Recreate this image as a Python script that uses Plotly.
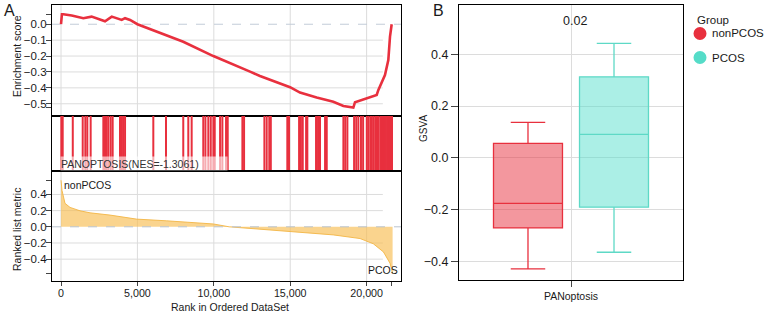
import plotly.graph_objects as go

# ---------------- data ----------------
es_rank = [0, 60, 150, 700, 1460, 2000, 2880, 3320, 3970, 4190, 4520, 5000, 8000, 9970,
           12370, 13020, 14990, 15640, 16730, 17820, 18480, 19130, 19240, 19680, 19900,
           20660, 20770, 20990, 21200, 21420, 21530, 21640]
es_score = [0.0, 0.063, 0.063, 0.055, 0.038, 0.048, 0.019, 0.048, 0.027, 0.038, 0.027, 0.0,
            -0.11, -0.20, -0.298, -0.325, -0.396, -0.43, -0.46, -0.487, -0.514, -0.524,
            -0.49, -0.476, -0.465, -0.445, -0.413, -0.361, -0.319, -0.225, -0.078, 0.0]

hit_ranks = [20, 110, 770, 1420, 1590, 1720, 1940, 2770, 2880, 2990, 3100, 3250, 3380,
             3860, 3950, 4060, 4190, 6040, 6870, 8000, 8330, 8550, 9310, 9450, 9640, 9800,
             9970, 10060, 10410, 10560, 10800, 10910, 11870, 11980, 13310, 13460, 13630,
             13730, 14810, 14920, 15580, 15700, 15820, 16040, 16120, 16690, 16820, 16950,
             17280, 17390, 18480, 18600, 18740, 19180, 19320, 19460, 19630, 19770, 20010,
             20110, 20240, 20340, 20440, 20560, 20640, 20720, 20800, 20940, 21020, 21100,
             21160, 21260, 21340, 21420, 21500, 21580, 21660]

metric_rank = [0, 20, 65, 260, 590, 1240, 1900, 3210, 4950, 6920, 9970, 11000, 13020,
               14990, 17820, 19570, 20440, 21100, 21530, 21700]
metric_val = [0.576, 0.50, 0.45, 0.29, 0.24, 0.198, 0.173, 0.145, 0.095, 0.074, 0.035, 0.0,
              -0.03, -0.062, -0.10, -0.145, -0.21, -0.31, -0.45, -0.575]

gene_set_label = "PANOPTOSIS(NES=-1.3061)"

rank_ticks = [0, 5000, 10000, 15000, 20000]
rank_ticktext = ["0", "5,000", "10,000", "15,000", "20,000"]
es_ticks = [0.0, -0.1, -0.2, -0.3, -0.4, -0.5]
metric_ticks = [0.4, 0.2, 0.0, -0.2, -0.4]

groups = ["nonPCOS", "PCOS"]
box_category = "PANoptosis"
box_q1 = [-0.27, -0.19]
box_median = [-0.175, 0.091]
box_q3 = [0.056, 0.313]
box_low = [-0.428, -0.364]
box_high = [0.137, 0.442]
gsva_ticks = [-0.4, -0.2, 0.0, 0.2, 0.4]
p_value = "0.02"

# ---------------- style ----------------
W, H = 765, 312
FONT = "Liberation Sans, Arial, sans-serif"
RED = "#E8303E"
TEAL = "#55DCC8"
GROUP_LINE = [RED, "#5ED9C6"]
GROUP_FILL = ["rgba(232,48,62,0.5)", "rgba(80,222,202,0.48)"]
GRID = "#DCDCDC"
TXT = "#1a1a1a"


def fx(p):
    return p / W


def fy(p):
    return 1 - p / H


def fmt(v):
    s = f"{abs(v):.1f}"
    return ("\u2212" + s) if v < 0 else s


fig = go.Figure()

# running enrichment score
fig.add_trace(go.Scatter(x=es_rank, y=es_score, mode="lines",
                         line=dict(color=RED, width=2.6), xaxis="x", yaxis="y",
                         showlegend=False, hoverinfo="skip"))

# hit bars
hx, hy = [], []
for r in hit_ranks:
    hx += [r, r, None]
    hy += [0, 1, None]
fig.add_trace(go.Scatter(x=hx, y=hy, mode="lines", line=dict(color=RED, width=2),
                         xaxis="x2", yaxis="y2", showlegend=False, hoverinfo="skip"))

# ranked list metric
fig.add_trace(go.Scatter(x=metric_rank, y=metric_val, mode="lines", fill="tozeroy",
                         fillcolor="rgba(247,188,78,0.64)",
                         line=dict(color="rgba(243,182,70,0.9)", width=1),
                         xaxis="x3", yaxis="y3", showlegend=False, hoverinfo="skip"))

# boxes
for i, g in enumerate(groups):
    fig.add_trace(go.Box(x=[box_category], q1=[box_q1[i]], median=[box_median[i]],
                         q3=[box_q3[i]], lowerfence=[box_low[i]], upperfence=[box_high[i]],
                         name=g, fillcolor=GROUP_FILL[i],
                         line=dict(color=GROUP_LINE[i], width=1.3), whiskerwidth=0.5,
                         boxpoints=False, xaxis="x4", yaxis="y4", showlegend=False))

xA = [fx(52), fx(401)]
xrange = [-590, 22250]
common_ax = dict(showline=True, mirror=True, linecolor="black", linewidth=1.3,
                 zeroline=False, showgrid=False)

layout = dict(
    width=W, height=H, margin=dict(l=0, r=0, t=0, b=0),
    paper_bgcolor="white", plot_bgcolor="white",
    font=dict(family=FONT, color=TXT),
    showlegend=False,
    boxmode="group", boxgap=0.232, boxgroupgap=0.198,
    xaxis=dict(domain=xA, anchor="y", range=xrange, showticklabels=False, ticks="",
               **common_ax),
    xaxis2=dict(domain=xA, anchor="y2", range=xrange, matches="x", showticklabels=False,
                ticks="", **common_ax),
    xaxis3=dict(domain=xA, anchor="y3", range=xrange, matches="x",
                tickvals=rank_ticks + [metric_rank[-1] - 60],
                ticktext=rank_ticktext + [""], ticks="outside", ticklen=4, tickwidth=1.2,
                ticklabelstandoff=-2,
                tickfont=dict(size=10.7, color=TXT), **common_ax),
    yaxis=dict(domain=[fy(116), fy(5)], anchor="x", range=[-0.577, 0.121],
               tickvals=es_ticks + [max(es_score), min(es_score)],
               ticktext=[fmt(v) for v in es_ticks] + ["", ""],
               ticks="outside", ticklen=5, tickwidth=1.2, ticklabelstandoff=-3,
               tickfont=dict(size=11.5, color=TXT), **common_ax),
    yaxis2=dict(domain=[fy(171), fy(116)], anchor="x2", range=[0, 1],
                showticklabels=False, ticks="", **common_ax),
    yaxis3=dict(domain=[fy(281), fy(171)], anchor="x3", range=[-0.67, 0.69],
                tickvals=metric_ticks + [max(metric_val), min(metric_val)],
                ticktext=[fmt(v) for v in metric_ticks] + ["", ""],
                ticks="outside", ticklen=5, tickwidth=1.2, ticklabelstandoff=-3,
                tickfont=dict(size=11.5, color=TXT), **common_ax),
    xaxis4=dict(domain=[fx(459), fx(683)], anchor="y4", type="category",
                showline=True, mirror=True, linecolor="black", linewidth=1.3,
                showgrid=True, gridcolor=GRID, gridwidth=1, ticks="outside", ticklen=6,
                tickwidth=1.2, tickfont=dict(size=10.5, color=TXT)),
    yaxis4=dict(domain=[fy(280), fy(5)], anchor="x4", range=[-0.471, 0.59],
                tickvals=gsva_ticks, ticktext=[fmt(v) for v in gsva_ticks],
                showline=True, mirror=True, linecolor="black", linewidth=1.3,
                showgrid=True, gridcolor=GRID, gridwidth=1, zeroline=False,
                ticks="outside", ticklen=7, tickwidth=1.2,
                tickfont=dict(size=12.5, color=TXT)),
)
fig.update_layout(**layout)

shapes = []
# vertical gridlines in all three GSEA panels
for yr in ["y domain", "y2 domain", "y3 domain"]:
    for t in rank_ticks:
        shapes.append(dict(type="line", xref="x", yref=yr, x0=t, x1=t, y0=0, y1=1,
                           line=dict(color=GRID, width=1), layer="below"))
# horizontal gridlines (stop short of right edge as in reference)
for v in es_ticks:
    if v != 0:
        shapes.append(dict(type="line", xref="x domain", yref="y", x0=0, x1=0.948, y0=v,
                           y1=v, line=dict(color=GRID, width=1), layer="below"))
for v in metric_ticks:
    if v != 0:
        shapes.append(dict(type="line", xref="x3 domain", yref="y3", x0=0, x1=0.948,
                           y0=v, y1=v, line=dict(color=GRID, width=1), layer="below"))
shapes.append(dict(type="line", xref="x domain", yref="y", x0=0, x1=1, y0=0, y1=0,
                   line=dict(color="#C3CCD8", width=1, dash="dash"), layer="below"))
shapes.append(dict(type="line", xref="x3 domain", yref="y3", x0=0, x1=1, y0=0, y1=0,
                   line=dict(color="#B9C3CF", width=1, dash="dash"), layer="above"))
# manual legend markers
leg_y = [33.5, 57.5]
for i, g in enumerate(groups):
    shapes.append(dict(type="circle", xref="paper", yref="paper", xsizemode="pixel",
                       ysizemode="pixel", xanchor=fx(700), yanchor=fy(leg_y[i]),
                       x0=-6.5, x1=6.5, y0=-6.5, y1=6.5,
                       fillcolor=[RED, TEAL][i], line=dict(width=0)))
fig.update_layout(shapes=shapes)

ann = []


def add_text(text, x, y, size, xanchor="center", yanchor="middle", angle=0, **kw):
    ann.append(dict(text=text, x=fx(x), y=fy(y), xref="paper", yref="paper",
                    showarrow=False, xanchor=xanchor, yanchor=yanchor, textangle=angle,
                    font=dict(size=size, color=TXT, family=FONT), **kw))


add_text("A", 9, 10, 16)
add_text("B", 438, 10, 16)
add_text("Enrichment score", 17, 56, 10.5, angle=-90)
add_text("Ranked list metric", 17, 230, 10.5, angle=-90)
add_text("Rank in Ordered DataSet", 230, 306.5, 10.5)
add_text("GSVA", 423, 129, 10, angle=-90)
add_text(p_value, 574.5, 21, 12.5)
add_text("nonPCOS", 62, 185, 10.5, xanchor="left")
add_text("PCOS", 400, 269.5, 10.5, xanchor="right")
add_text("Group", 695, 20, 11.5, xanchor="left")
for i, g in enumerate(groups):
    add_text(g, 709.5, leg_y[i], 11.5, xanchor="left")
ann.append(dict(text=gene_set_label, x=fx(60), y=fy(171), xref="paper", yref="paper",
                showarrow=False, xanchor="left", yanchor="bottom", align="left",
                width=166, height=13, borderpad=0, bgcolor="rgba(255,255,255,0.6)",
                font=dict(size=10.5, color="#333333", family=FONT)))
fig.update_layout(annotations=ann)

fig.write_html("out.html")
